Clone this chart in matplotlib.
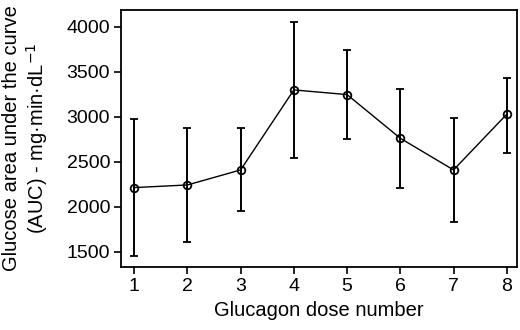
import matplotlib
matplotlib.use('Agg')
import matplotlib.pyplot as plt

plt.rcParams['font.family'] = ['Liberation Sans', 'DejaVu Sans']

# values
dose = [1, 2, 3, 4, 5, 6, 7, 8]
auc_mean = [2215, 2244, 2411, 3300, 3248, 2763, 2411, 3030]
auc_upper = [2978, 2874, 2874, 4052, 3744, 3307, 2985, 3437]
auc_lower = [1455, 1607, 1956, 2548, 2756, 2215, 1830, 2596]

err_low = [m - l for m, l in zip(auc_mean, auc_lower)]
err_high = [u - m for m, u in zip(auc_mean, auc_upper)]

fig = plt.figure(figsize=(5.2, 3.3), dpi=100)
ax = fig.add_axes([0.233, 0.191, 0.761, 0.779])

ax.errorbar(dose, auc_mean, yerr=[err_low, err_high], color='black',
            linewidth=1.0, elinewidth=1.4, capsize=3, capthick=1.4,
            marker='o', markersize=5.5, markerfacecolor='none',
            markeredgecolor='black', markeredgewidth=1.3)

ax.set_xlim(0.756, 8.19)
ax.set_ylim(1333, 4189)
ax.set_xticks(dose)
ax.set_yticks([1500, 2000, 2500, 3000, 3500, 4000])
ax.tick_params(labelsize=14, length=5, width=1.2, pad=3)
for s in ax.spines.values():
    s.set_linewidth(1.3)

ax.set_xlabel('Glucagon dose number', fontsize=14.5, labelpad=4)
ax.set_ylabel('Glucose area under the curve\n(AUC) - mg·min·dL$^{-1}$',
              fontsize=14.5, labelpad=12, linespacing=1.15)

fig.savefig('out.png', dpi=100)
